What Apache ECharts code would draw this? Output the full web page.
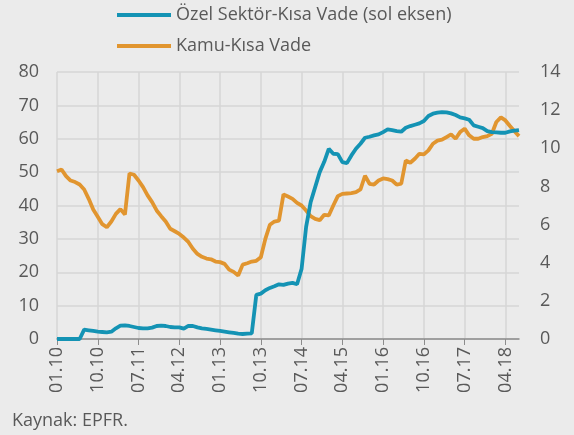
<!DOCTYPE html>
<html>
<head>
<meta charset="utf-8">
<script src="https://cdn.jsdelivr.net/npm/echarts@6/dist/echarts.min.js"></script>
<style>
  html, body { margin: 0; padding: 0; background: #ebebeb; }
  #chart { width: 574px; height: 435px; }
</style>
</head>
<body>
<div id="chart"></div>
<script>
// monthly, 01.10 .. 07.18
var months = [];
for (var y = 10; y <= 18; y++) {
    for (var m = 1; m <= 12; m++) {
        if (y === 18 && m > 7) break;
        months.push((m < 10 ? '0' + m : '' + m) + '.' + y);
    }
}

// left axis
var ozelKisa = [
    0, 0, 0, 0, 0, 0, 2.8, 2.6, 2.4, 2.2,
    2.1, 2.0, 2.2, 3.2, 4.0, 4.1, 3.9, 3.6, 3.3, 3.2,
    3.2, 3.4, 3.9, 4.0, 3.9, 3.6, 3.5, 3.5, 3.1, 3.9,
    3.9, 3.5, 3.2, 3.0, 2.8, 2.6, 2.4, 2.2, 2.0, 1.8,
    1.6, 1.5, 1.6, 1.7, 13.2, 13.6, 14.6, 15.3, 15.8, 16.4,
    16.2, 16.6, 16.8, 16.4, 21.0, 33.6, 41.0, 45.5, 50.0, 53.1,
    57.0, 55.5, 55.4, 53.0, 52.7, 55.0, 57.0, 58.5, 60.3, 60.6,
    61.0, 61.3, 62.0, 62.8, 62.6, 62.3, 62.1, 63.3, 63.8, 64.2,
    64.6, 65.3, 66.8, 67.5, 67.8, 68.0, 67.9, 67.6, 67.1, 66.4,
    66.1, 65.7, 64.0, 63.6, 63.2, 62.3, 62.0, 61.9, 61.8, 61.8,
    62.2, 62.4, 62.6
];

// right axis
var kamuKisa = [
    8.80, 8.89, 8.54, 8.31, 8.23, 8.10, 7.84, 7.35, 6.79, 6.41,
    6.02, 5.86, 6.16, 6.56, 6.81, 6.53, 8.68, 8.61, 8.31, 7.96,
    7.53, 7.18, 6.74, 6.44, 6.16, 5.78, 5.65, 5.51, 5.32, 5.09,
    4.73, 4.46, 4.31, 4.22, 4.18, 4.06, 4.03, 3.94, 3.64, 3.52,
    3.33, 3.90, 3.97, 4.06, 4.10, 4.29, 5.25, 5.99, 6.16, 6.21,
    7.58, 7.47, 7.35, 7.14, 7.00, 6.74, 6.44, 6.30, 6.23, 6.51,
    6.48, 7.00, 7.49, 7.61, 7.63, 7.65, 7.70, 7.84, 8.56, 8.14,
    8.10, 8.31, 8.42, 8.38, 8.31, 8.09, 8.14, 9.36, 9.24, 9.45,
    9.71, 9.68, 9.89, 10.24, 10.40, 10.45, 10.59, 10.73, 10.50, 10.85,
    11.03, 10.68, 10.50, 10.50, 10.59, 10.64, 10.76, 11.38, 11.62, 11.46,
    11.17, 10.89, 10.64
];

var seriesNames = ['Özel Sektör-Kısa Vade (sol eksen)', 'Kamu-Kısa Vade'];
var colors = ['#1493b4', '#e1952f'];
var font = 'Open Sans, Lato, sans-serif';
var textColor = '#595959';

var chart = echarts.init(document.getElementById('chart'));

function legend(name, top) {
    return {
        data: [name],
        left: 117,
        top: top,
        icon: 'rect',
        itemWidth: 54,
        itemHeight: 4,
        itemGap: 0,
        padding: 0,
        textStyle: { color: textColor, fontSize: 18, fontFamily: font, padding: [0, 0, 0, 0] }
    };
}

chart.setOption({
    backgroundColor: '#ebebeb',
    animation: false,
    color: colors,
    legend: [legend(seriesNames[0], 6), legend(seriesNames[1], 37)],
    graphic: [{
        type: 'text',
        left: 12,
        top: 412,
        style: { text: 'Kaynak: EPFR.', fill: textColor, font: '18px ' + font }
    }],
    grid: { left: 57, right: 55, top: 72, bottom: 96 },
    xAxis: {
        type: 'category',
        data: months,
        boundaryGap: false,
        axisLine: { lineStyle: { color: '#8c8c8c', width: 1.5 } },
        axisTick: { interval: 8, length: 6, lineStyle: { color: '#8c8c8c' } },
        axisLabel: {
            interval: 8, rotate: 90, color: textColor, fontSize: 18,
            fontFamily: font, margin: 8
        },
        splitLine: { show: true, interval: 8, lineStyle: { color: '#d6d6d6', width: 1.5 } }
    },
    yAxis: [{
        type: 'value', min: 0, max: 80, interval: 10,
        axisLine: { show: false }, axisTick: { show: false },
        axisLabel: { color: textColor, fontSize: 18, fontFamily: font, margin: 18 },
        splitLine: { lineStyle: { color: '#d6d6d6', width: 1.5 } }
    }, {
        type: 'value', min: 0, max: 14, interval: 2,
        axisLine: { show: false }, axisTick: { show: false },
        axisLabel: { color: textColor, fontSize: 18, fontFamily: font, margin: 21 },
        splitLine: { show: false }
    }],
    series: [{
        name: seriesNames[0],
        type: 'line',
        yAxisIndex: 0,
        data: ozelKisa,
        showSymbol: false,
        lineStyle: { width: 3.8, color: colors[0] },
        z: 3
    }, {
        name: seriesNames[1],
        type: 'line',
        yAxisIndex: 1,
        data: kamuKisa,
        showSymbol: false,
        lineStyle: { width: 3.8, color: colors[1] },
        z: 2
    }]
});
</script>
</body>
</html>
